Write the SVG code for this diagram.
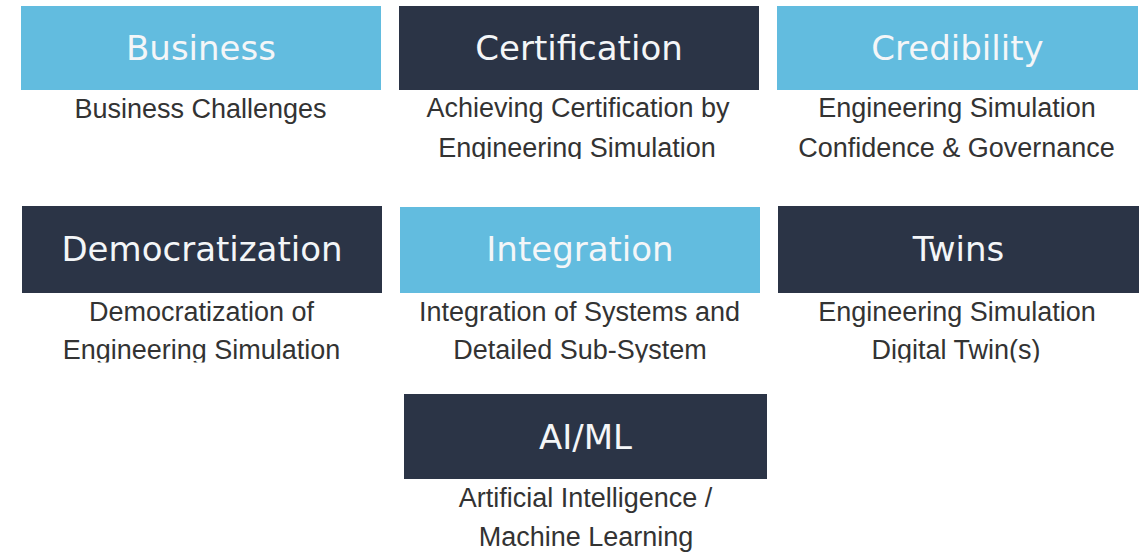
<svg xmlns="http://www.w3.org/2000/svg" width="1146" height="552" viewBox="0 0 1146 552">
<style>
.light{fill:#62bcdf}
.dark{fill:#2b3446}
.title{font-family:"DejaVu Sans",sans-serif;font-size:34px;fill:#f4f6f8;text-anchor:middle}
.desc{font-family:"Liberation Sans",Arial,sans-serif;font-size:27px;fill:#333333;text-anchor:middle}
</style>
<defs>
<clipPath id="clip1"><rect x="0" y="90" width="1146" height="69"/></clipPath>
<clipPath id="clip2"><rect x="0" y="293" width="1146" height="69.5"/></clipPath>
</defs>
<rect width="1146" height="552" fill="#ffffff"/>
<g id="business">
<rect class="light" x="21" y="6" width="360" height="84"/>
<text class="title" x="201" y="60">Business</text>
<g clip-path="url(#clip1)"><text class="desc" x="200.5" y="118">Business Challenges</text></g>
</g>
<g id="certification">
<rect class="dark" x="399" y="6" width="360" height="84"/>
<text class="title" x="579" y="60">Certification</text>
<g clip-path="url(#clip1)"><text class="desc" x="578" y="117">Achieving Certification by</text>
<text class="desc" x="577" y="157">Engineering Simulation</text></g>
</g>
<g id="credibility">
<rect class="light" x="777" y="6" width="361" height="84"/>
<text class="title" x="957.5" y="60">Credibility</text>
<g clip-path="url(#clip1)"><text class="desc" x="957" y="117">Engineering Simulation</text>
<text class="desc" x="956.5" y="157">Confidence &amp; Governance</text></g>
</g>
<g id="democratization">
<rect class="dark" x="22" y="206" width="360" height="87"/>
<text class="title" x="202" y="261">Democratization</text>
<g clip-path="url(#clip2)"><text class="desc" x="201.5" y="321">Democratization of</text>
<text class="desc" x="201.5" y="359">Engineering Simulation</text></g>
</g>
<g id="integration">
<rect class="light" x="400" y="207" width="360" height="86"/>
<text class="title" x="580" y="261">Integration</text>
<g clip-path="url(#clip2)"><text class="desc" x="579.5" y="321">Integration of Systems and</text>
<text class="desc" x="580" y="359">Detailed Sub-System</text></g>
</g>
<g id="twins">
<rect class="dark" x="778" y="206" width="361" height="87"/>
<text class="title" x="958.5" y="261">Twins</text>
<g clip-path="url(#clip2)"><text class="desc" x="957" y="321">Engineering Simulation</text>
<text class="desc" x="956" y="359">Digital Twin(s)</text></g>
</g>
<g id="aiml">
<rect class="dark" x="404" y="394" width="363" height="85"/>
<text class="title" x="585.5" y="449">AI/ML</text>
<text class="desc" x="585.5" y="507">Artificial Intelligence /</text>
<text class="desc" x="586" y="546">Machine Learning</text>
</g>
<g id="connectors"></g>
</svg>
